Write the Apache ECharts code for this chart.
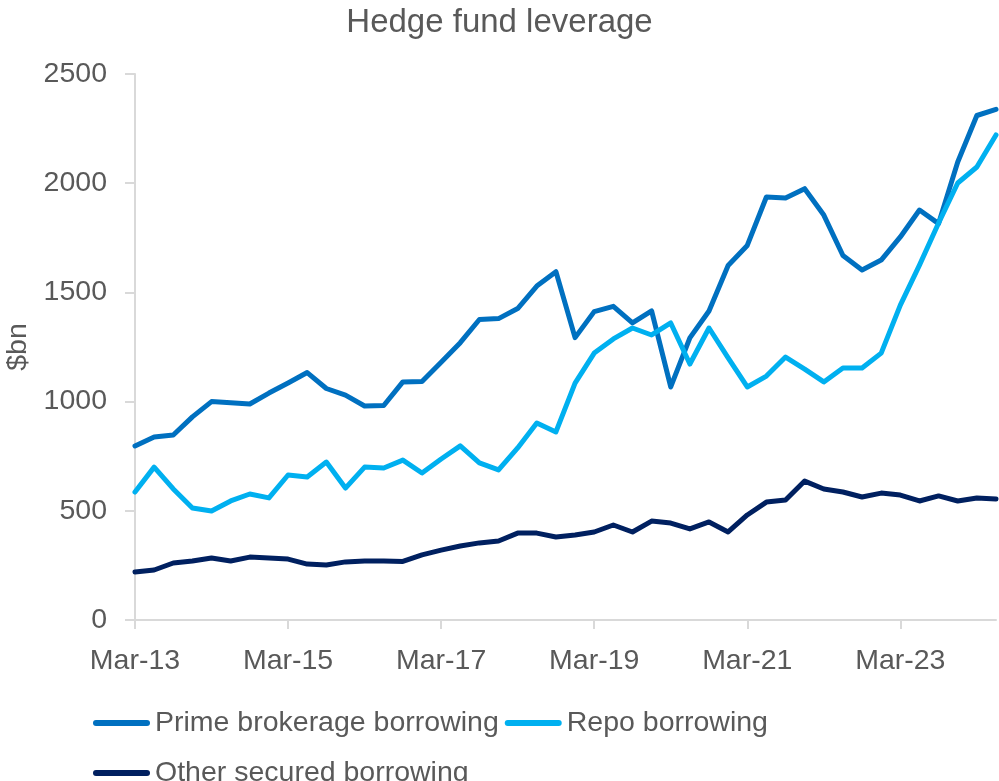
<!DOCTYPE html>
<html>
<head>
<meta charset="utf-8">
<title>Hedge fund leverage</title>
<script src="https://cdn.jsdelivr.net/npm/echarts@6/dist/echarts.min.js"></script>
<style>
  html, body { margin: 0; padding: 0; background: #ffffff; }
  #chart { width: 999px; height: 781px; }
</style>
</head>
<body>
<div id="chart"></div>
<script>
// Quarterly observations, Mar-13 to Jun-24 ($bn)
const quarters = [
  'Mar-13','Jun-13','Sep-13','Dec-13','Mar-14','Jun-14','Sep-14','Dec-14',
  'Mar-15','Jun-15','Sep-15','Dec-15','Mar-16','Jun-16','Sep-16','Dec-16',
  'Mar-17','Jun-17','Sep-17','Dec-17','Mar-18','Jun-18','Sep-18','Dec-18',
  'Mar-19','Jun-19','Sep-19','Dec-19','Mar-20','Jun-20','Sep-20','Dec-20',
  'Mar-21','Jun-21','Sep-21','Dec-21','Mar-22','Jun-22','Sep-22','Dec-22',
  'Mar-23','Jun-23','Sep-23','Dec-23','Mar-24','Jun-24'
];

const primeBrokerage = [
  797, 838, 847, 930, 1000, 995, 989, 1039,
  1085, 1133, 1060, 1030, 980, 982, 1090, 1092,
  1180, 1270, 1376, 1380, 1426, 1529, 1595, 1293,
  1412, 1436, 1360, 1415, 1067, 1292, 1415, 1623,
  1715, 1937, 1932, 1975, 1854, 1669, 1603, 1648,
  1754, 1877, 1815, 2097, 2310, 2338
];

const repo = [
  586, 700, 600, 513, 499, 545, 577, 559,
  664, 655, 723, 604, 700, 696, 732, 673,
  737, 797, 719, 687, 788, 902, 861, 1085,
  1222, 1287, 1337, 1305, 1360, 1172, 1337, 1200,
  1067, 1117, 1204, 1149, 1090, 1154, 1154, 1222,
  1442, 1625, 1818, 2001, 2074, 2221
];

const otherSecured = [
  220, 229, 261, 270, 284, 270, 288, 284,
  279, 256, 252, 266, 270, 270, 268, 298,
  320, 339, 353, 362, 398, 398, 380, 389,
  403, 435, 403, 453, 444, 417, 449, 403,
  481, 540, 549, 636, 600, 586, 563, 581,
  572, 545, 568, 545, 559, 554
];

const seriesNames = ['Prime brokerage borrowing', 'Repo borrowing', 'Other secured borrowing'];
const seriesColors = ['#0070C0', '#00B0F0', '#002060'];

const FONT = '"Liberation Sans", Arial, sans-serif';
const TEXT = '#595959';
const AXIS = '#D9D9D9';

const chart = echarts.init(document.getElementById('chart'), null, { renderer: 'canvas' });

function lineSeries(name, data, color) {
  return {
    name: name,
    type: 'line',
    data: data,
    symbol: 'none',
    lineStyle: { width: 5, color: color, join: 'round', cap: 'round' },
    itemStyle: { color: color },
    emphasis: { disabled: true }
  };
}

chart.setOption({
  animation: false,
  backgroundColor: '#ffffff',
  textStyle: { fontFamily: FONT },
  title: {
    text: 'Hedge fund leverage',
    left: 'center',
    top: 1,
    textStyle: { fontFamily: FONT, fontSize: 33, fontWeight: 'normal', color: TEXT }
  },
  legend: {
    left: 88,
    top: 696,
    right: 0,
    itemWidth: 57,
    itemHeight: 6,
    itemGap: 6,
    icon: 'path://M3,0 H54 A3,3 0 0 1 54,6 H3 A3,3 0 0 1 3,0 Z',
    textStyle: { fontFamily: FONT, fontSize: 28.5, color: TEXT, lineHeight: 44, padding: [0, 0, 0, 0] },
    data: seriesNames
  },
  grid: { left: 135, right: 3, top: 74, bottom: 161, containLabel: false, outerBoundsMode: 'none' },
  xAxis: {
    type: 'category',
    data: quarters,
    boundaryGap: false,
    axisLine: { show: true, lineStyle: { color: AXIS, width: 2 } },
    axisTick: { show: true, interval: 7, length: 9, lineStyle: { color: AXIS, width: 2 } },
    axisLabel: { interval: 7, margin: 27, fontFamily: FONT, fontSize: 28.5, color: TEXT },
    splitLine: { show: false }
  },
  yAxis: {
    type: 'value',
    min: 0,
    max: 2500,
    interval: 500,
    name: '$bn',
    nameLocation: 'middle',
    nameGap: 102,
    nameRotate: 90,
    nameTextStyle: { fontFamily: FONT, fontSize: 28.5, color: TEXT },
    axisLine: { show: true, lineStyle: { color: AXIS, width: 2 } },
    axisTick: { show: true, length: 10, lineStyle: { color: AXIS, width: 2 } },
    axisLabel: {
      margin: 28, fontFamily: FONT, fontSize: 28.5, color: TEXT,
      formatter: function (v) { return String(v); }
    },
    splitLine: { show: false }
  },
  series: [
    lineSeries(seriesNames[0], primeBrokerage, seriesColors[0]),
    lineSeries(seriesNames[1], repo, seriesColors[1]),
    lineSeries(seriesNames[2], otherSecured, seriesColors[2])
  ]
});
</script>
</body>
</html>
